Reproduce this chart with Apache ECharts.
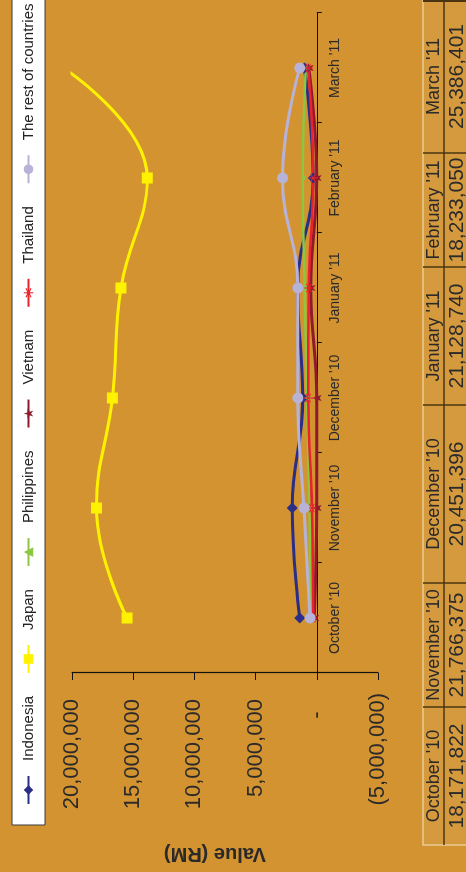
<!DOCTYPE html>
<html>
<head>
<meta charset="utf-8">
<script src="https://cdn.jsdelivr.net/npm/echarts@6/dist/echarts.min.js"></script>
<style>
html,body{margin:0;padding:0;background:#D39330;overflow:hidden;width:466px;height:872px;}
#c{position:absolute;left:0;top:0;width:872px;height:466px;transform-origin:0 0;transform:translate(0,872px) rotate(-90deg);}
</style>
</head>
<body>
<div id="c"></div>
<script>
const categories = ["October '10", "November '10", "December '10", "January '11", "February '11", "March '11"];
const indonesia   = [1400000, 2000000, 1150000, 1550000, 300000, 1000000];
const japan       = [15500000, 18000000, 16700000, 16000000, 13850000, 20700000];
const philippines = [500000, 600000, 800000, 1000000, 1150000, 900000];
const vietnam     = [200000, 0, 0, 500000, 0, 650000];
const thailand    = [300000, 400000, 700000, 650000, 300000, 700000];
const rest        = [550000, 1050000, 1550000, 1550000, 2800000, 1400000];
const tableMonths = ["October '10", "November '10", "December '10", "January '11", "February '11", "March '11"];
const tableTotals = [18171822, 21766375, 20451396, 21128740, 18233050, 25386401];
const valueMin = -5000000, valueMax = 20000000, valueStep = 5000000;

const FONT = '"Liberation Sans", Arial, sans-serif';
const BG = '#D39330';

function fmtVal(v) {
  if (v === 0) return '-   ';
  const s = Math.abs(v).toLocaleString('en-US');
  return v < 0 ? '(' + s + ')' : s + ' ';
}

const star = 'path://M50,0 L61,35 L98,35 L68,57 L79,91 L50,70 L21,91 L32,57 L2,35 L39,35 Z';
const asterisk = 'path://M45,0 H55 V38 L88,19 L93,28 L60,47 V53 L93,72 L88,81 L55,62 V100 H45 V62 L12,81 L7,72 L40,53 V47 L7,28 L12,19 L45,38 Z';

function mk(name, data, color, symbol, size, width) {
  return {
    name, type: 'line', data, smooth: 0.45, symbol, symbolSize: size,
    lineStyle: { color, width }, itemStyle: { color },
    emphasis: { disabled: true }, clip: true
  };
}

// table graphics
const colEdges = [27, 165, 289, 467, 605, 719, 872];
const tTop = 423, tMid = 444, tBot = 470;
const tableEls = [];
tableEls.push({ type: 'rect', shape: { x: colEdges[0], y: tTop, width: colEdges[6] - colEdges[0], height: tBot - tTop },
  style: { fill: '#D69A3E', stroke: '#EBCB94', lineWidth: 1.5 } });
tableEls.push({ type: 'line', shape: { x1: colEdges[0], y1: tMid, x2: colEdges[6], y2: tMid }, style: { stroke: '#4A3412', lineWidth: 1.5 } });
for (let i = 1; i < colEdges.length - 1; i++) {
  tableEls.push({ type: 'line', shape: { x1: colEdges[i], y1: tTop, x2: colEdges[i], y2: tBot }, style: { stroke: '#4A3412', lineWidth: 1.5 } });
}
tableEls.push({ type: 'line', shape: { x1: colEdges[6] - 1, y1: tTop, x2: colEdges[6] - 1, y2: tBot }, style: { stroke: '#4A3412', lineWidth: 2 } });
tableMonths.forEach((m, i) => {
  const cx = (colEdges[i] + colEdges[i + 1]) / 2;
  tableEls.push({ type: 'text', x: cx, y: 434.5, style: { text: m, fill: '#2A2A2A', font: '18px ' + FONT, align: 'center', verticalAlign: 'middle' } });
  tableEls.push({ type: 'text', x: cx, y: 457, style: { text: tableTotals[i].toLocaleString('en-US'), fill: '#2A2A2A', font: '21px ' + FONT, align: 'center', verticalAlign: 'middle' } });
});

const chart = echarts.init(document.getElementById('c'), null, { renderer: 'canvas' });
chart.setOption({
  backgroundColor: BG,
  animation: false,
  textStyle: { fontFamily: FONT },
  graphic: [
    { type: 'rect', z: 0, shape: { x: 47, y: 12, width: 840, height: 33 }, style: { fill: '#FFFFFF', stroke: '#3A3A3A', lineWidth: 1 } },
    ...tableEls
  ],
  legend: {
    left: 67, top: 21, width: 1000, padding: 0, itemWidth: 28, itemHeight: 12, itemGap: 22,
    textStyle: { fontSize: 15, color: '#222', fontFamily: FONT, padding: [0, 0, 0, 10] },
    data: ['Indonesia', 'Japan', 'Philippines', 'Vietnam', 'Thailand', 'The rest of countries']
  },
  grid: { left: 195, right: 13, top: 72, bottom: 88 },
  xAxis: {
    type: 'category', data: categories, boundaryGap: true,
    axisLine: { onZero: true, lineStyle: { color: '#111', width: 1.2 } },
    axisTick: { show: true, length: 5, lineStyle: { color: '#111' } },
    axisLabel: { fontSize: 14, color: '#2A2A2A', margin: -50, interval: 0, hideOverlap: false, fontFamily: FONT }
  },
  yAxis: {
    type: 'value', min: valueMin, max: valueMax, interval: valueStep,
    name: 'Value (RM)', nameLocation: 'middle', nameGap: 171,
    nameTextStyle: { fontSize: 20, fontWeight: 'bold', color: '#2A2A2A', fontFamily: FONT, padding: [0, 0, 0, 20] },
    axisLine: { show: true, lineStyle: { color: '#111', width: 1.2 } },
    axisTick: { show: true, length: 7, lineStyle: { color: '#111' } },
    splitLine: { show: false },
    axisLabel: { fontSize: 22, color: '#2A2A2A', margin: 20, fontFamily: FONT, formatter: fmtVal }
  },
  series: [
    mk('Indonesia', indonesia, '#2B2E86', 'diamond', 11, 3),
    mk('Japan', japan, '#FFF200', 'rect', 11, 3),
    mk('Philippines', philippines, '#8DC63F', 'triangle', 5, 2.5),
    mk('Vietnam', vietnam, '#8E1A2E', star, 10, 3),
    mk('Thailand', thailand, '#E8232B', asterisk, 9, 2.5),
    mk('The rest of countries', rest, '#B7B2D8', 'circle', 11, 3)
  ]
});
</script>
</body>
</html>
